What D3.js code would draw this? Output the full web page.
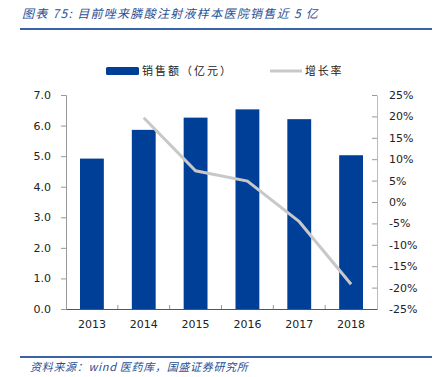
<!DOCTYPE html>
<html>
<head>
<meta charset="utf-8">
<script src="https://cdn.jsdelivr.net/npm/d3@7"></script>
<style>
  body { margin: 0; background: #fff; }
  svg { display: block; }
</style>
</head>
<body>
<div id="chart"></div>
<script>
// data
const years = ["2013", "2014", "2015", "2016", "2017", "2018"];
const sales = [4.92, 5.86, 6.26, 6.53, 6.21, 5.03];          // 亿元
const growth = [null, 19.7, 7.3, 4.9, -4.6, -19.2];          // %
const leftTicks = [0, 1, 2, 3, 4, 5, 6, 7];
const rightTicks = [-25, -20, -15, -10, -5, 0, 5, 10, 15, 20, 25];

const width = 442, height = 377;
const margin = { top: 95, right: 65, bottom: 68, left: 66 };
const font = "'DejaVu Sans', Verdana, sans-serif";
const cjk = "'Noto Sans CJK SC', sans-serif";

const svg = d3.select("#chart").append("svg")
  .attr("width", width)
  .attr("height", height);

// title + rule
svg.append("text")
  .attr("x", 22).attr("y", 18)
  .attr("font-family", cjk)
  .attr("font-size", 12)
  .attr("font-style", "italic")
  .attr("letter-spacing", 1.3)
  .attr("fill", "#2a4f95")
  .text("图表 75:  目前唑来膦酸注射液样本医院销售近 5 亿");

svg.append("line")
  .attr("x1", 20).attr("x2", 432).attr("y1", 29).attr("y2", 29)
  .attr("stroke", "#3a62a8").attr("stroke-width", 2);

const x = d3.scaleBand()
  .domain(years)
  .range([margin.left, width - margin.right])
  .paddingInner(0.54)
  .paddingOuter(0.27);

const y = d3.scaleLinear().domain([0, 7]).range([height - margin.bottom, margin.top]);
const y2 = d3.scaleLinear().domain([-25, 25]).range([height - margin.bottom, margin.top]);

// bars
svg.selectAll(".bar")
  .data(years)
  .enter()
  .append("rect")
  .attr("class", "bar")
  .attr("x", d => x(d))
  .attr("width", x.bandwidth())
  .attr("y", (d, i) => y(sales[i]))
  .attr("height", (d, i) => y(0) - y(sales[i]))
  .attr("fill", "#003f98");

// growth line
const lineData = years.map((d, i) => ({ year: d, v: growth[i] })).filter(d => d.v !== null);
svg.append("path")
  .datum(lineData)
  .attr("d", d3.line()
    .x(d => x(d.year) + x.bandwidth() / 2)
    .y(d => y2(d.v)))
  .attr("fill", "none")
  .attr("stroke", "#c8c8c8")
  .attr("stroke-width", 3);

// left axis
const left = svg.append("g")
  .attr("transform", `translate(${margin.left},0)`)
  .call(d3.axisLeft(y).tickValues(leftTicks).tickFormat(d3.format(".1f")).tickSize(5).tickPadding(10));
left.select(".domain").attr("stroke", "#999");
left.selectAll(".tick line").attr("stroke", "#999");
left.selectAll("text").attr("font-family", font).attr("font-size", 11).attr("fill", "#222");

// right axis (ticks point inward)
const right = svg.append("g")
  .attr("transform", `translate(${width - margin.right},0)`)
  .call(d3.axisRight(y2).tickValues(rightTicks).tickFormat(d => d + "%").tickSize(0).tickPadding(12));
right.select(".domain").attr("stroke", "#bbb");
right.selectAll(".tick").append("line")
  .attr("x1", -5).attr("x2", 0).attr("stroke", "#999");
right.selectAll("text").attr("font-family", font).attr("font-size", 11).attr("fill", "#222");

// x axis
const bottom = svg.append("g")
  .attr("transform", `translate(0,${y(0)})`)
  .call(d3.axisBottom(x).tickSize(0).tickPadding(11));
bottom.select(".domain").attr("stroke", "#555");
bottom.selectAll("text").attr("font-family", font).attr("font-size", 11).attr("fill", "#222");
// small separator ticks between categories, pointing up
const step = x.step();
bottom.selectAll(".sep")
  .data(years.slice(1))
  .enter()
  .append("line")
  .attr("x1", d => x(d) - (step - x.bandwidth()) / 2)
  .attr("x2", d => x(d) - (step - x.bandwidth()) / 2)
  .attr("y1", 0).attr("y2", -4)
  .attr("stroke", "#999");

// legend
const legend = svg.append("g").attr("font-family", cjk).attr("font-size", 11).attr("fill", "#222");
legend.append("rect")
  .attr("x", 106).attr("y", 67).attr("width", 33).attr("height", 8).attr("rx", 1.5)
  .attr("fill", "#003f98");
legend.append("text").attr("x", 142).attr("y", 75).attr("letter-spacing", 2).text("销售额（亿元）");
legend.append("line")
  .attr("x1", 270).attr("x2", 302).attr("y1", 71).attr("y2", 71)
  .attr("stroke", "#c8c8c8").attr("stroke-width", 3);
legend.append("text").attr("x", 305).attr("y", 75).attr("letter-spacing", 1.7).text("增长率");

// footer
svg.append("line")
  .attr("x1", 20).attr("x2", 432).attr("y1", 357).attr("y2", 357)
  .attr("stroke", "#3a62a8").attr("stroke-width", 2);
svg.append("text")
  .attr("x", 30).attr("y", 371)
  .attr("font-family", cjk)
  .attr("font-size", 11)
  .attr("font-style", "italic")
  .attr("letter-spacing", 0.7)
  .attr("fill", "#2a4f95")
  .text("资料来源：wind 医药库，国盛证券研究所");
</script>
</body>
</html>
